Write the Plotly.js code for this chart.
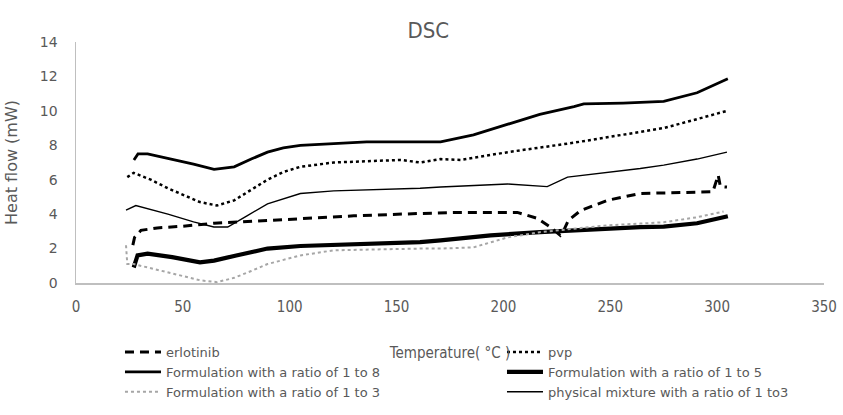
<!DOCTYPE html>
<html>
<head>
<meta charset="utf-8">
<script src="https://cdn.plot.ly/plotly-3.0.1.min.js"></script>
<style>html,body{margin:0;padding:0;background:#fff}#chart{width:843px;height:415px}</style>
</head>
<body>
<div id="chart"></div>
<script>
// Temperature (°C) / Heat flow (mW)
var erlotinibT = [26.6, 27.4, 30.4, 38, 50, 64.6, 85, 105, 130, 161, 180, 206.5, 216, 222, 226.6, 228, 230.4, 236, 248.6, 264, 280, 298, 300.5, 301.5, 304.6];
var erlotinibH = [2.2, 2.65, 3.06, 3.2, 3.3, 3.47, 3.6, 3.75, 3.9, 4.04, 4.1, 4.1, 3.75, 3.25, 2.77, 3.0, 3.64, 4.2, 4.8, 5.2, 5.25, 5.3, 6.27, 5.6, 5.57];

var pvpT = [24, 27, 35, 43, 58, 66, 74, 82, 89.6, 97, 105, 120.6, 152, 161, 170.6, 180, 202, 233, 259, 275, 290, 304.6];
var pvpH = [6.15, 6.4, 6.0, 5.5, 4.7, 4.5, 4.8, 5.4, 6.0, 6.45, 6.75, 7.0, 7.15, 7.0, 7.2, 7.15, 7.6, 8.15, 8.65, 9.0, 9.5, 10.0];

var f18T = [27.1, 29, 33.5, 45, 55, 64.6, 74, 82, 89.6, 97, 105, 120.6, 136, 161, 170.6, 186, 202, 217, 233, 237.6, 256, 267, 275, 290.6, 305];
var f18H = [7.15, 7.5, 7.5, 7.2, 6.9, 6.6, 6.75, 7.2, 7.6, 7.85, 8.0, 8.1, 8.2, 8.2, 8.2, 8.6, 9.2, 9.8, 10.25, 10.4, 10.45, 10.5, 10.55, 11.05, 11.87];

var f15T = [27, 28.8, 33.5, 45, 58, 64.6, 75, 89.6, 105, 120.6, 161, 170.6, 194, 217, 248.6, 264, 275, 290.6, 305];
var f15H = [0.9, 1.6, 1.7, 1.5, 1.2, 1.3, 1.6, 2.0, 2.15, 2.2, 2.37, 2.48, 2.77, 2.95, 3.17, 3.25, 3.27, 3.47, 3.88];

var f13T = [23.4, 24, 27, 43, 58.4, 66, 74, 82, 89.6, 105, 120.6, 161, 170.6, 186, 202, 217, 248.6, 264, 275, 290.6, 303];
var f13H = [2.19, 1.1, 1.1, 0.6, 0.15, 0.05, 0.3, 0.7, 1.1, 1.6, 1.9, 2.0, 2.0, 2.07, 2.65, 2.95, 3.35, 3.45, 3.53, 3.82, 4.15];

var pmT = [23.4, 28, 43, 55, 64.5, 71, 80, 89.6, 105, 120.6, 161, 170.6, 202, 220.5, 230, 259, 264, 275, 290.6, 304.6];
var pmH = [4.23, 4.5, 4.0, 3.55, 3.25, 3.25, 3.9, 4.6, 5.2, 5.35, 5.5, 5.58, 5.75, 5.6, 6.15, 6.56, 6.65, 6.85, 7.2, 7.6];

var seriesNames = ["erlotinib", "pvp", "Formulation with a ratio of 1 to 8", "Formulation with a ratio of 1 to 5", "Formulation with a ratio of 1 to 3", "physical mixture with a ratio of 1 to3"];
var xTicks = [0, 50, 100, 150, 200, 250, 300, 350];
var yTicks = [0, 2, 4, 6, 8, 10, 12, 14];

var narrow = "'Liberation Sans Narrow', 'DejaVu Sans Condensed', Arial, sans-serif";
var gray = "#595959";

var traces = [
  {x: erlotinibT, y: erlotinibH, name: seriesNames[0], legend: "legend", mode: "lines", line: {color: "#000", width: 3, dash: "9px,6px"}},
  {x: pvpT, y: pvpH, name: seriesNames[1], legend: "legend2", mode: "lines", line: {color: "#000", width: 2.5, dash: "dot"}},
  {x: f18T, y: f18H, name: seriesNames[2], legend: "legend", mode: "lines", line: {color: "#000", width: 2.8}},
  {x: f15T, y: f15H, name: seriesNames[3], legend: "legend2", mode: "lines", line: {color: "#000", width: 4.2}},
  {x: f13T, y: f13H, name: seriesNames[4], legend: "legend", mode: "lines", line: {color: "#a6a6a6", width: 2, dash: "dot"}},
  {x: pmT, y: pmH, name: seriesNames[5], legend: "legend2", mode: "lines", line: {color: "#000", width: 1.4}}
];

var legendFont = {family: "'DejaVu Sans', sans-serif", size: 13, color: gray};

var layout = {
  width: 843, height: 415,
  margin: {l: 76, r: 19, t: 42, b: 132, autoexpand: false},
  paper_bgcolor: "#fff", plot_bgcolor: "#fff",
  title: {text: "DSC", x: 0.508, xref: "container", y: 0.928, yref: "container", xanchor: "center", yanchor: "middle",
          font: {family: narrow, size: 22, color: gray}},
  xaxis: {
    range: [0, 350], tickvals: xTicks, showgrid: false, zeroline: false, automargin: false,
    showline: true, linecolor: "#bfbfbf", linewidth: 1.5, ticks: "",
    tickfont: {family: narrow, size: 15, color: gray}, ticklabelstandoff: 9,
    title: {text: "Temperature( °C )", font: {family: narrow, size: 15, color: gray}, standoff: 33}
  },
  yaxis: {
    range: [0, 14], tickvals: yTicks, showgrid: false, zeroline: false, automargin: false,
    showline: true, linecolor: "#bfbfbf", linewidth: 1.5, ticks: "",
    tickfont: {family: "'DejaVu Sans', sans-serif", size: 14, color: gray}, ticklabelstandoff: 14,
    title: {text: "Heat flow (mW)", font: {family: "'DejaVu Sans', sans-serif", size: 16, color: gray}, standoff: 18}
  },
  showlegend: true,
  legend: {
    orientation: "v", x: 0.0588, xanchor: "left", y: -0.224, yanchor: "top",
    font: legendFont, bgcolor: "rgba(0,0,0,0)", itemwidth: 36, tracegroupgap: 0
  },
  legend2: {
    orientation: "v", x: 0.5695, xanchor: "left", y: -0.224, yanchor: "top",
    font: legendFont, bgcolor: "rgba(0,0,0,0)", itemwidth: 36, tracegroupgap: 0
  }
};

Plotly.newPlot("chart", traces, layout, {displayModeBar: false, staticPlot: true});
</script>
</body>
</html>
